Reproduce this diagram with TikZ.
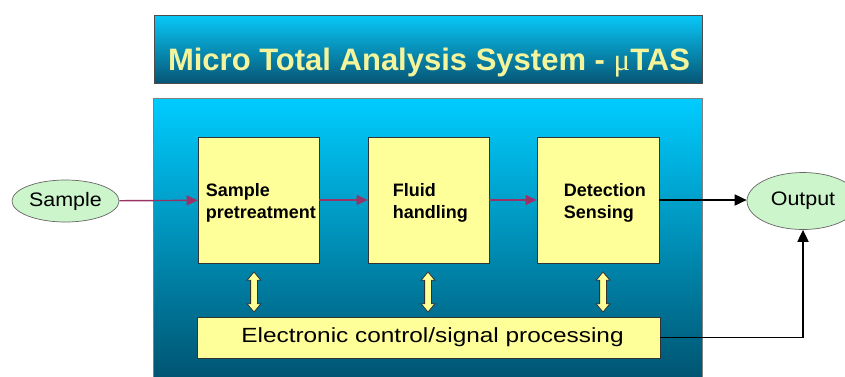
\documentclass[tikz,border=0pt]{standalone}
\usepackage{fontspec}
\setmainfont{Liberation Sans}
\newfontfamily\greekserif{Liberation Serif}
\usetikzlibrary{shapes.geometric,shapes.arrows,arrows.meta,calc}
\definecolor{boxyellow}{HTML}{FFFF99}
\definecolor{titleyellow}{HTML}{F4F49C}
\definecolor{ovalgreen}{HTML}{CCF5CC}
\definecolor{flowpurple}{HTML}{993366}
\definecolor{cyantop}{HTML}{00CCFF}
\definecolor{cyanmid}{HTML}{0092C2}
\definecolor{cyanbot}{HTML}{00506C}
\definecolor{titletop}{HTML}{08C8F8}
\definecolor{titlebot}{HTML}{075676}
\begin{document}
\begin{tikzpicture}[x=1pt,y=-1pt,
  titlebox/.style={draw=black!70, line width=0.6pt, top color=titletop, bottom color=titlebot,
    minimum width=548, minimum height=68, inner sep=0},
  titletext/.style={font=\fontsize{31}{36}\selectfont\bfseries, text=titleyellow, inner sep=0},
  mainbox/.style={draw=black!50, line width=0.6pt, top color=cyantop, middle color=cyanmid, bottom color=cyanbot,
    minimum width=549, minimum height=290, inner sep=0},
  procbox/.style={draw=black!80, line width=0.8pt, fill=boxyellow, minimum width=121,
    minimum height=126, inner sep=0},
  proctext/.style={font=\fontsize{18}{22}\selectfont\bfseries, align=left, anchor=west, inner sep=0},
  ctrlbox/.style={draw=black!80, line width=0.8pt, fill=boxyellow, minimum width=463,
    minimum height=41, inner sep=0},
  ctrltext/.style={font=\fontsize{20.5}{24}\selectfont, inner sep=0},
  oval/.style={ellipse, draw=black!60, line width=0.7pt, fill=ovalgreen, inner sep=0,
    font=\fontsize{19.5}{22}\selectfont},
  flow/.style={draw=flowpurple, line width=1.4pt, -{Triangle[length=11pt,width=10pt]}},
  outflow/.style={draw=black, line width=1.8pt, -{Triangle[length=12pt,width=11pt]}},
  link/.style={double arrow, shape border rotate=90, draw=black!80, line width=0.8pt,
    fill=boxyellow, minimum height=40, inner sep=3pt,
    double arrow head extend=3.5pt, double arrow tip angle=80}
]
\useasboundingbox (0,0) rectangle (845,376);
\clip (0,0) rectangle (845,376);
\fill[white] (0,0) rectangle (845,376);

% title
\node[titlebox] (title) at (428,49) {};
\node[titletext, anchor=base] (ttl) at (429,70) {Micro Total Analysis System - {\greekserif\mdseries μ}TAS};

% main system box
\node[mainbox, anchor=north west] (main) at (153,98) {};

% process boxes
\node[procbox] (b1) at (258.5,200) {};
\node[procbox] (b2) at (428.5,200) {};
\node[procbox, minimum width=122] (b3) at (598,200) {};
\node[proctext] (t1) at ([xshift=8pt,yshift=-3pt]b1.west) {Sample\\pretreatment};
\node[proctext] (t2) at ([xshift=25pt,yshift=-3pt]b2.west) {Fluid\\handling};
\node[proctext] (t3) at ([xshift=27pt,yshift=-3pt]b3.west) {Detection\\Sensing};

% control box
\node[ctrlbox] (ctrl) at (428.5,337.5) {};
\node[ctrltext] (ctrlt) at ([xshift=4pt]ctrl.center) {\scalebox{1.19}[1]{Electronic control/signal processing}};

% input / output
\node[oval, minimum width=107, minimum height=42] (sample) at (65.5,201) {\scalebox{1.1}[1]{Sample}};
\node[oval, minimum width=112, minimum height=57] (out) at (803,201) {\scalebox{1.1}[1]{Output}};

% links between boxes and control
\node[link] (l1) at ($(b1.south)!0.5!(b1.south |- ctrl.north)+(-4.5,2)$) {};
\node[link] (l2) at ($(b2.south)!0.5!(b2.south |- ctrl.north)+(-0.5,2)$) {};
\node[link] (l3) at ($(b3.south)!0.5!(b3.south |- ctrl.north)+(5,2)$) {};

% flow
\draw[flow] (sample) -- (b1);
\draw[flow] (b1) -- (b2);
\draw[flow] (b2) -- (b3);
\draw[outflow] (b3.east) -- (b3.east -| out.west);
\draw[outflow] (ctrl.east) -| (out.south);
\end{tikzpicture}
\end{document}
